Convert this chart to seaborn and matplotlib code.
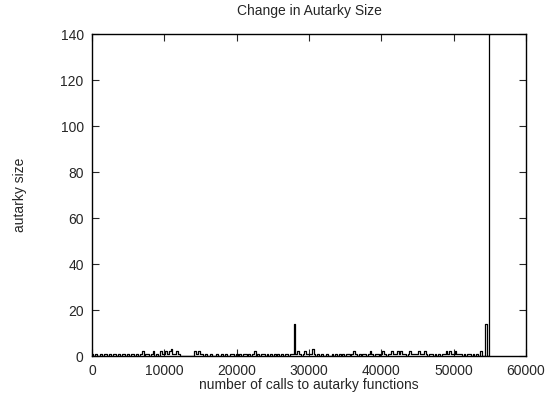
import numpy as np
import pandas as pd
import matplotlib
matplotlib.use("Agg")
import matplotlib.pyplot as plt
import seaborn as sns

# x grid: number of calls (step 250)
call_step = 250
call_max = 55000

seg0 = [1,0,1,0,0,1,0,1,1,0,1,0,1,1,0,1,0,1,1,0]
seg1 = [1,0,1,1,0,1,0,1,2,0,1,1,0,1,2,0,1,0,2,1]
seg2 = [1,2,1,2,3,1,1,2,1,0,0,0,0,0,0,0,0,2,1,2]
seg3 = [1,1,0,1,0,0,1,0,0,1,0,0,1,0,1,0,0,1,1,0]
seg4 = [1,0,1,0,1,1,0,1,0,1,2,0,1,0,1,1,0,1,0,1]
seg5 = [0,1,0,1,0,1,0,1,1,0,1,1,14,1,2,1,0,1,2,1]
seg6 = [1,1,3,1,0,1,0,1,0,0,1,0,0,1,0,1,0,1,0,1]
seg7 = [0,1,1,0,1,2,1,0,1,0,1,1,0,1,2,1,0,1,1,0]
seg8 = [1,2,1,0,1,1,2,1,1,2,1,2,1,1,0,1,2,1,1,1]
seg9 = [1,2,1,1,2,1,0,1,1,0,1,0,1,0,1,1,2,1,2,1]
seg10 = [1,2,1,1,1,0,1,0,1,1,0,1,0,1,0,2,0,0,14,0]
final = [140]

sizes = seg0 + seg1 + seg2 + seg3 + seg4 + seg5 + seg6 + seg7 + seg8 + seg9 + seg10 + final
calls = np.arange(0, call_max + call_step, call_step)

xticks = [0, 10000, 20000, 30000, 40000, 50000, 60000]
yticks = [0, 20, 40, 60, 80, 100, 120, 140]

df = pd.DataFrame({"calls": calls, "size": sizes})

sns.set_style("ticks")
plt.rcParams["font.family"] = ["Liberation Sans", "DejaVu Sans"]

fig = plt.figure(figsize=(5.48, 3.96), dpi=100)
ax = fig.add_axes([92/548, 40/396, 434/548, 322/396])
sns.lineplot(data=df, x="calls", y="size", estimator=None, color="black",
             linewidth=0.9, drawstyle="steps-mid", ax=ax)

ax.set_xlim(0, 60000)
ax.set_ylim(0, 140)
ax.set_xticks(xticks)
ax.set_yticks(yticks)
ax.set_xticklabels([str(t) for t in xticks], fontsize=10)
ax.set_yticklabels([str(t) for t in yticks], fontsize=10)
ax.tick_params(direction="in", length=5, width=0.8, top=True, right=True, pad=6)
for s in ax.spines.values():
    s.set_visible(True)
    s.set_linewidth(1.0)
    s.set_color("black")

ax.set_title("Change in Autarky Size", fontsize=10, pad=14)
ax.set_xlabel("number of calls to autarky functions", fontsize=10, labelpad=0)
ax.set_ylabel("autarky size", fontsize=10, labelpad=24)

fig.savefig("out.png", dpi=100)
